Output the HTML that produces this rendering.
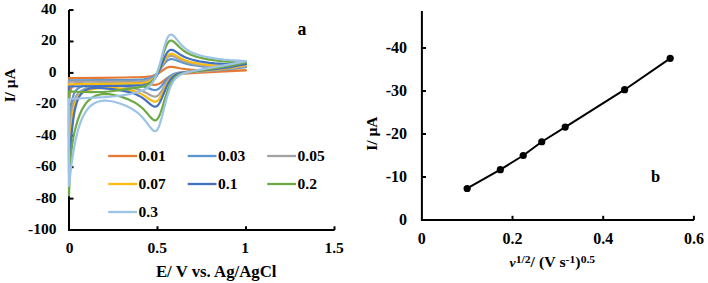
<!DOCTYPE html><html><head><meta charset="utf-8"><style>html,body{margin:0;padding:0;background:#fff;}svg{display:block;}</style></head><body>
<svg width="708" height="283" viewBox="0 0 708 283">
<rect width="708" height="283" fill="#fff"/>
<g stroke="#000" stroke-width="2" fill="none">
<path d="M69 10V230H334.6"/>
<path d="M69 10.04H73.5"/>
<path d="M69 41.47H73.5"/>
<path d="M69 72.90H73.5"/>
<path d="M69 104.33H73.5"/>
<path d="M69 135.76H73.5"/>
<path d="M69 167.18H73.5"/>
<path d="M69 198.61H73.5"/>
<path d="M157.50 230V226.3"/>
<path d="M246.00 230V226.3"/>
<path d="M334.50 230V226.3"/>
</g>
<g fill="none" stroke-width="2.2" stroke-linejoin="round" stroke-linecap="round">
<path stroke="#E57A35" d="M69.0 78.1L100.0 77.9L125.4 77.5L140.5 77.2L144.2 77.0L147.5 76.7L150.0 76.4L152.0 76.0L153.7 75.5L155.5 74.8L157.3 74.0L158.8 73.1L164.1 69.3L166.1 68.1L167.2 67.6L168.3 67.2L169.4 67.0L170.6 66.9L172.1 66.9L173.9 67.1L181.0 68.5L185.4 69.2L190.2 69.7L195.8 70.1L204.0 70.3L214.4 70.5L246.0 70.4L246.0 70.4L215.0 71.8L195.3 72.8L184.1 73.6L177.6 74.3L175.4 74.7L173.4 75.2L171.7 75.8L170.1 76.5L168.6 77.3L166.8 78.4L161.7 82.2L159.7 83.4L158.6 84.0L157.5 84.4L156.4 84.6L155.3 84.8L153.7 84.8L152.0 84.6L143.3 83.0L137.4 82.2L129.6 81.6L120.6 81.1L107.7 80.7L95.8 80.7L87.4 81.0L84.3 81.2L81.6 81.6L78.5 82.2L76.1 83.1L74.3 84.1L73.4 84.9L72.8 85.7L71.7 87.5L71.0 89.1L70.5 90.5L69.7 94.2L69.0 98.3Z"/>
<path stroke="#5B96D0" d="M69.0 80.3L122.1 80.2L130.9 80.1L139.8 79.7L144.0 79.3L146.7 78.8L149.1 78.2L151.5 77.3L153.5 76.2L155.3 74.9L157.1 73.3L158.8 71.3L164.1 64.0L166.1 61.6L167.2 60.6L168.3 59.9L169.4 59.4L170.8 59.1L172.3 59.1L174.1 59.5L182.3 62.5L185.2 63.4L187.8 64.1L191.1 64.8L195.1 65.5L203.5 66.6L210.8 67.2L215.0 67.4L221.0 67.6L232.7 67.5L246.0 67.1L246.0 67.1L228.3 69.2L215.0 70.5L201.8 71.5L182.7 72.3L179.0 72.7L176.1 73.3L174.3 73.8L172.5 74.6L171.0 75.5L169.7 76.4L168.1 77.8L166.6 79.5L161.7 85.7L159.9 87.7L158.8 88.7L157.7 89.4L156.6 89.8L155.5 90.1L154.0 90.0L152.2 89.6L144.2 86.6L141.6 85.8L138.9 85.2L136.0 84.7L132.7 84.2L124.8 83.6L116.6 83.3L109.3 83.2L104.4 83.2L98.6 83.4L94.0 83.8L89.4 84.4L85.8 85.1L82.3 86.2L80.3 87.1L78.7 88.0L77.4 89.0L76.1 90.3L75.2 91.5L74.3 93.1L73.4 95.3L72.8 97.5L72.1 100.4L71.7 102.9L71.0 107.8L70.5 112.0L69.7 123.8L69.0 137.0Z"/>
<path stroke="#A3A3A3" d="M69.0 81.7L132.3 81.6L137.4 81.5L141.3 81.2L144.4 80.9L147.3 80.3L149.5 79.6L151.7 78.6L153.7 77.2L155.5 75.5L157.3 73.4L158.8 71.2L160.4 68.6L164.1 61.9L166.1 58.9L167.2 57.6L168.3 56.7L169.4 56.1L170.8 55.8L172.3 55.9L174.1 56.5L181.8 60.4L184.7 61.5L187.1 62.4L190.5 63.3L194.0 64.1L198.0 64.9L201.8 65.5L206.2 66.0L210.6 66.4L219.4 66.8L224.8 66.8L231.8 66.7L246.0 66.1L246.0 66.1L232.7 68.1L219.4 69.8L211.7 70.6L206.2 71.1L184.3 72.4L179.8 73.0L178.1 73.3L176.5 73.8L174.5 74.6L172.8 75.6L171.2 76.8L169.7 78.3L168.1 80.2L166.6 82.5L161.7 90.8L159.9 93.4L158.8 94.7L157.7 95.7L156.6 96.3L155.5 96.6L154.8 96.6L154.0 96.5L152.2 96.0L150.6 95.3L146.0 92.7L143.3 91.4L140.5 90.3L136.9 89.1L132.9 88.0L128.5 87.1L123.4 86.4L118.3 85.8L113.2 85.4L108.8 85.2L104.4 85.2L100.0 85.4L98.2 85.6L95.1 86.0L90.5 86.9L86.7 88.0L83.4 89.5L81.4 90.7L79.4 92.2L77.8 93.8L76.5 95.6L75.4 97.6L74.5 99.6L73.6 102.4L73.0 105.2L72.3 108.8L71.7 113.6L71.0 120.1L70.5 125.7L69.7 141.4L69.0 158.7Z"/>
<path stroke="#F8BC14" d="M69.0 84.3L100.0 83.8L135.6 83.4L139.8 83.3L142.9 83.0L145.6 82.6L147.8 82.1L150.0 81.3L152.0 80.1L153.7 78.8L155.5 76.9L157.3 74.4L158.8 71.8L160.4 68.8L164.1 61.0L166.1 57.5L167.2 56.0L168.3 54.9L169.4 54.2L170.8 53.8L172.1 53.9L173.9 54.4L175.4 55.2L181.6 58.8L183.8 59.8L186.5 60.8L189.6 61.8L192.0 62.4L195.8 63.2L200.4 64.0L205.7 64.7L210.6 65.2L219.4 65.6L224.8 65.6L231.6 65.6L246.0 65.1L246.0 65.1L228.3 68.0L215.0 69.7L206.2 70.6L189.4 71.9L184.1 72.5L179.8 73.2L178.3 73.6L176.7 74.2L174.8 75.2L173.0 76.4L171.4 77.8L169.9 79.6L168.3 81.8L166.8 84.4L165.2 87.5L161.9 94.4L159.9 98.0L158.8 99.5L157.7 100.6L156.6 101.4L155.5 101.7L154.8 101.7L154.0 101.6L153.1 101.4L152.2 100.9L150.6 100.0L146.0 96.8L143.3 95.1L140.5 93.6L137.4 92.3L133.8 91.1L130.1 90.1L126.1 89.3L121.2 88.5L115.5 87.9L109.7 87.7L104.4 87.8L100.0 88.1L95.5 88.6L90.2 89.7L86.5 90.9L84.7 91.7L82.9 92.6L80.9 94.0L79.4 95.4L78.1 97.0L76.7 99.1L75.6 101.5L74.8 104.0L73.9 107.4L73.2 110.6L72.5 114.7L71.9 119.9L70.8 132.2L69.9 146.9L69.0 168.2Z"/>
<path stroke="#4470C0" d="M69.0 86.5L100.0 86.0L126.5 85.9L135.4 85.7L139.8 85.5L142.9 85.2L145.3 84.7L147.8 84.0L150.0 83.0L151.1 82.3L152.2 81.4L154.0 79.7L155.7 77.3L157.3 74.7L158.8 71.6L160.4 68.0L164.1 58.5L166.1 54.3L167.2 52.5L168.3 51.1L169.4 50.3L170.1 50.0L170.8 49.8L172.1 49.8L173.0 50.1L173.9 50.5L175.4 51.4L181.4 55.3L183.6 56.5L186.3 57.7L189.4 58.8L191.6 59.5L195.1 60.4L199.3 61.3L204.4 62.1L209.5 62.8L214.8 63.4L219.4 63.7L224.8 64.0L231.6 64.2L246.0 64.1L246.0 64.1L237.2 65.7L228.3 67.3L215.0 69.2L206.2 70.2L189.6 71.7L184.3 72.3L182.1 72.7L180.1 73.1L178.3 73.7L176.7 74.3L174.8 75.5L173.0 76.9L171.4 78.5L169.9 80.6L168.3 83.2L166.8 86.4L165.2 90.0L161.9 98.1L159.9 102.3L158.8 104.1L157.7 105.5L156.6 106.3L155.5 106.6L154.8 106.7L154.0 106.5L153.1 106.1L152.2 105.6L150.4 104.3L146.4 100.9L144.2 99.1L141.8 97.4L139.1 95.9L136.5 94.6L133.8 93.5L130.7 92.6L127.2 91.6L120.6 90.4L112.4 89.2L104.6 88.3L98.6 87.9L94.7 87.9L90.9 88.3L89.1 88.7L87.6 89.2L86.3 89.7L84.9 90.5L83.2 91.7L81.6 93.3L80.1 95.3L78.7 97.7L77.6 100.2L76.5 103.5L75.4 107.6L74.5 111.8L73.6 116.9L73.0 121.5L72.1 129.0L71.4 135.8L70.1 153.5L69.0 173.8Z"/>
<path stroke="#6DAA45" d="M69.0 91.4L82.3 92.0L91.1 92.2L100.0 92.0L104.4 91.8L108.8 91.5L117.7 90.4L138.3 87.4L141.3 86.8L143.6 86.3L145.8 85.6L147.5 84.8L148.9 84.1L150.0 83.4L152.0 81.6L153.7 79.4L155.5 76.4L157.1 73.1L158.8 68.5L160.4 63.8L164.1 51.5L165.9 46.6L167.0 44.2L168.1 42.4L169.2 41.2L169.9 40.8L170.6 40.6L171.2 40.5L172.1 40.7L173.0 41.2L173.9 41.8L175.4 43.1L179.2 46.9L181.2 48.7L183.4 50.5L185.6 52.0L187.8 53.3L190.5 54.6L193.6 55.8L196.2 56.6L200.2 57.7L205.3 58.8L211.3 59.8L217.2 60.6L223.7 61.3L230.1 61.8L237.4 62.2L246.0 62.5L246.0 62.5L232.7 65.1L220.3 67.3L210.6 68.8L192.9 71.3L187.6 72.2L184.3 72.9L181.6 73.7L179.4 74.6L177.4 75.6L175.4 77.1L173.4 79.2L171.7 81.7L169.9 85.0L168.3 88.6L166.8 92.9L165.2 97.8L161.9 108.9L159.9 114.5L158.8 116.9L157.7 118.7L156.8 119.7L156.4 120.0L155.7 120.3L154.8 120.4L154.0 120.1L153.1 119.6L152.2 118.9L150.4 117.1L146.2 112.2L143.8 109.5L140.9 106.8L138.0 104.6L134.9 102.6L131.6 100.9L127.6 99.1L123.0 97.4L117.7 95.8L113.2 94.8L108.8 94.1L104.4 94.0L102.2 94.2L100.0 94.5L97.1 95.3L95.5 95.9L94.0 96.6L92.5 97.5L90.9 98.5L88.2 100.8L86.0 103.3L84.7 105.1L83.6 106.8L81.6 110.5L79.6 115.0L77.8 119.9L76.1 125.9L74.5 132.1L73.4 137.4L72.3 144.0L71.4 150.8L70.8 157.7L70.1 167.2L69.7 176.0L69.0 195.4Z"/>
<path stroke="#9DC3E6" d="M69.0 99.0L104.4 97.2L113.2 96.5L122.1 95.4L126.5 94.7L130.9 93.8L137.4 92.2L140.2 91.3L142.7 90.4L145.1 89.3L146.9 88.3L148.2 87.4L149.5 86.3L151.5 84.1L152.4 82.9L153.5 81.2L155.3 77.7L157.1 73.2L158.8 67.7L160.4 62.1L163.9 48.3L165.9 41.6L167.0 38.8L168.1 36.7L169.2 35.3L169.9 34.8L170.6 34.6L171.2 34.6L172.1 34.8L173.0 35.4L173.9 36.1L175.4 37.8L179.2 42.4L181.2 44.7L183.4 46.9L185.6 48.7L187.8 50.3L190.2 51.7L192.7 52.9L195.6 54.0L199.5 55.3L204.4 56.5L211.7 57.8L217.9 58.8L223.9 59.6L230.5 60.2L237.8 60.7L246.0 61.2L246.0 61.2L229.6 64.4L197.3 70.1L190.2 71.6L186.0 72.6L182.7 73.7L179.8 75.1L177.6 76.6L176.5 77.5L175.4 78.6L174.3 80.0L173.4 81.2L171.7 84.3L170.1 87.7L168.6 92.0L167.0 97.0L165.5 102.8L161.9 117.1L159.9 123.9L158.8 126.9L157.7 129.1L157.3 129.7L156.6 130.5L156.2 130.8L155.5 131.1L154.6 131.2L153.7 130.9L153.1 130.5L152.0 129.4L150.2 127.3L146.0 121.7L143.6 118.7L141.1 116.0L138.3 113.3L135.6 111.2L132.3 109.1L129.0 107.2L125.2 105.5L119.9 103.5L114.8 102.0L112.8 101.5L109.7 101.0L105.9 100.7L104.4 100.7L102.4 100.8L100.2 101.1L98.9 101.5L97.1 102.0L95.5 102.7L94.0 103.5L92.5 104.5L90.2 106.2L88.2 108.3L86.3 110.9L84.5 113.7L82.7 117.1L81.2 120.7L79.6 125.0L78.3 129.3L77.0 134.2L75.6 140.0L74.3 146.7L73.2 153.0L72.1 160.3L71.0 168.4L69.0 185.9Z"/>
</g>
<g font-family="&quot;Liberation Serif&quot;, serif" font-weight="bold" font-size="15.5" text-anchor="end" fill="#000">
<text x="56.5" y="13.94">40</text>
<text x="56.5" y="45.37">20</text>
<text x="56.5" y="76.80">0</text>
<text x="56.5" y="108.23">-20</text>
<text x="56.5" y="139.66">-40</text>
<text x="56.5" y="171.08">-60</text>
<text x="56.5" y="202.51">-80</text>
<text x="56.5" y="233.94">-100</text>
</g>
<g font-family="&quot;Liberation Serif&quot;, serif" font-weight="bold" font-size="15.5" text-anchor="middle" fill="#000">
<text x="69.50" y="252.8">0</text>
<text x="157.30" y="252.8">0.5</text>
<text x="245.10" y="252.8">1</text>
<text x="334.10" y="252.8">1.5</text>
</g>
<text font-family="&quot;Liberation Serif&quot;, serif" font-weight="bold" font-size="16.8" text-anchor="middle" x="216.2" y="276.5">E/ V vs. Ag/AgCl</text>
<text font-family="&quot;Liberation Serif&quot;, serif" font-weight="bold" font-size="15.3" text-anchor="middle" transform="translate(14.8,85.4) rotate(-90)">I/ µA</text>
<text font-family="&quot;Liberation Serif&quot;, serif" font-weight="bold" font-size="17.8" x="297.6" y="35.3">a</text>
<path d="M108.2 156.0H137.0" stroke="#E57A35" stroke-width="2.3"/>
<text font-family="&quot;Liberation Serif&quot;, serif" font-weight="bold" font-size="15.5" x="138.6" y="160.6">0.01</text>
<path d="M187.7 156.0H216.5" stroke="#5B96D0" stroke-width="2.3"/>
<text font-family="&quot;Liberation Serif&quot;, serif" font-weight="bold" font-size="15.5" x="218.1" y="160.6">0.03</text>
<path d="M267.2 156.0H296.0" stroke="#A3A3A3" stroke-width="2.3"/>
<text font-family="&quot;Liberation Serif&quot;, serif" font-weight="bold" font-size="15.5" x="297.6" y="160.6">0.05</text>
<path d="M108.2 184.0H137.0" stroke="#F8BC14" stroke-width="2.3"/>
<text font-family="&quot;Liberation Serif&quot;, serif" font-weight="bold" font-size="15.5" x="138.6" y="188.6">0.07</text>
<path d="M187.7 184.0H216.5" stroke="#4470C0" stroke-width="2.3"/>
<text font-family="&quot;Liberation Serif&quot;, serif" font-weight="bold" font-size="15.5" x="218.1" y="188.6">0.1</text>
<path d="M267.2 184.0H296.0" stroke="#6DAA45" stroke-width="2.3"/>
<text font-family="&quot;Liberation Serif&quot;, serif" font-weight="bold" font-size="15.5" x="297.6" y="188.6">0.2</text>
<path d="M108.2 212.0H137.0" stroke="#9DC3E6" stroke-width="2.3"/>
<text font-family="&quot;Liberation Serif&quot;, serif" font-weight="bold" font-size="15.5" x="138.6" y="216.6">0.3</text>
<g stroke="#000" stroke-width="2" fill="none">
<path d="M421.9 11V220H694"/>
<path d="M421.9 177.00H426"/>
<path d="M421.9 134.00H426"/>
<path d="M421.9 91.00H426"/>
<path d="M421.9 48.00H426"/>
<path d="M512.50 220V215.8"/>
<path d="M603.20 220V215.8"/>
<path d="M693.90 220V215.8"/>
</g>
<path d="M467.15 188.48L500.35 169.69L523.21 155.50L541.78 141.74L565.21 127.12L624.61 89.71L670.19 58.32" stroke="#000" stroke-width="2" fill="none" stroke-linejoin="round"/>
<circle cx="467.15" cy="188.48" r="3.6" fill="#000"/>
<circle cx="500.35" cy="169.69" r="3.6" fill="#000"/>
<circle cx="523.21" cy="155.50" r="3.6" fill="#000"/>
<circle cx="541.78" cy="141.74" r="3.6" fill="#000"/>
<circle cx="565.21" cy="127.12" r="3.6" fill="#000"/>
<circle cx="624.61" cy="89.71" r="3.6" fill="#000"/>
<circle cx="670.19" cy="58.32" r="3.6" fill="#000"/>
<g font-family="&quot;Liberation Serif&quot;, serif" font-weight="bold" font-size="16" text-anchor="end" fill="#000">
<text x="407" y="225.40">0</text>
<text x="407" y="182.40">-10</text>
<text x="407" y="139.40">-20</text>
<text x="407" y="96.40">-30</text>
<text x="407" y="53.40">-40</text>
</g>
<g font-family="&quot;Liberation Serif&quot;, serif" font-weight="bold" font-size="16" text-anchor="middle" fill="#000">
<text x="421.80" y="244">0</text>
<text x="512.50" y="244">0.2</text>
<text x="603.20" y="244">0.4</text>
<text x="693.90" y="244">0.6</text>
</g>
<text font-family="&quot;Liberation Serif&quot;, serif" font-weight="bold" font-size="15.5" text-anchor="middle" transform="translate(376.6,133.6) rotate(-90)">I/ µA</text>
<text font-family="&quot;Liberation Serif&quot;, serif" font-weight="bold" font-size="16.5" x="651" y="182">b</text>
<text font-family="&quot;Liberation Serif&quot;, serif" font-weight="bold" font-size="15" transform="translate(509.6,267.3) scale(1.06,1)"><tspan font-style="italic" font-size="13">ν</tspan><tspan font-size="11" dy="-4.8">1/2</tspan><tspan dy="4.8">/ (V s</tspan><tspan font-size="11" dy="-4.8">-1</tspan><tspan dy="4.8">)</tspan><tspan font-size="11" dy="-4.8">0.5</tspan></text>
</svg></body></html>
